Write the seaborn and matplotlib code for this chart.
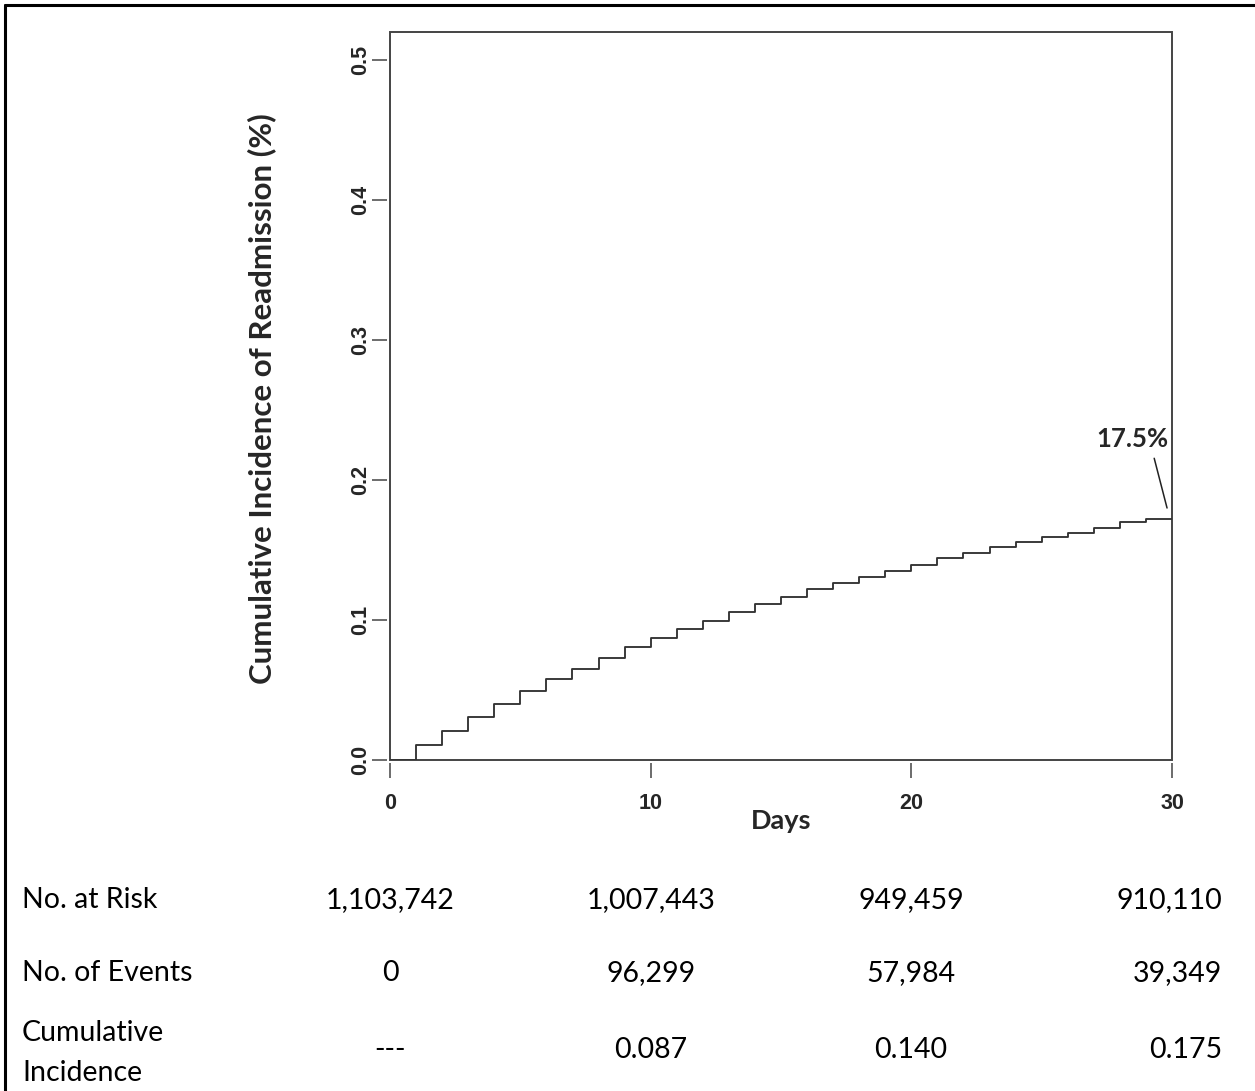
import numpy as np
import pandas as pd
import seaborn as sns
import matplotlib.pyplot as plt
from matplotlib.patches import Rectangle
from matplotlib.lines import Line2D

# step values (cumulative incidence at start of each day)
days = list(range(0, 31))
cum_incidence = [0.0, 0.0109, 0.0207, 0.0307, 0.0402, 0.0490, 0.0576, 0.0652,
                 0.0729, 0.0805, 0.0871, 0.0936, 0.0993, 0.1057, 0.1112, 0.1167,
                 0.1219, 0.1264, 0.1310, 0.1352, 0.1395, 0.1440, 0.1481, 0.1524,
                 0.1560, 0.1593, 0.1624, 0.1657, 0.1700, 0.1721, 0.1721]

x_ticks = [0, 10, 20, 30]
y_ticks = [0.0, 0.1, 0.2, 0.3, 0.4, 0.5]

row_labels = ['No. at Risk', 'No. of Events', 'Cumulative\nIncidence']
at_risk = ['1,103,742', '1,007,443', '949,459', '910,110']
n_events = ['0', '96,299', '57,984', '39,349']
cum_table = ['---', '0.087', '0.140', '0.175']

final_label = '17.5%'

df = pd.DataFrame({'day': days, 'ci': cum_incidence})

sns.set_style('white')
W, H = 1255, 1091
fig = plt.figure(figsize=(W / 100, H / 100), dpi=100)
ax = fig.add_axes([390 / W, 1 - 760 / H, (1172 - 390) / W, (760 - 32) / H])

line_col = '#333333'
sns.lineplot(data=df, x='day', y='ci', drawstyle='steps-post', color=line_col,
             linewidth=1.35, ax=ax)

# R-like detached axes: hide the spines, draw a box instead
# (spine positions first, since moving a spine resets its ticks)
for s in ax.spines.values():
    s.set_visible(False)
ax.spines['left'].set_position(('outward', 2.2))
ax.spines['bottom'].set_position(('outward', 2.2))
ax.add_patch(Rectangle((0, 0), 1, 1, transform=ax.transAxes, fill=False,
                       edgecolor='#444444', linewidth=1.4, clip_on=False))

tick_font = dict(family='Liberation Sans', weight='bold', size=15.5)
ax.set_xlim(0, 30)
ax.set_ylim(0, 0.52)
ax.set_xticks(x_ticks)
ax.set_yticks(y_ticks)
ax.set_xticklabels([str(t) for t in x_ticks], fontdict=tick_font)
ax.set_yticklabels(['%.1f' % t for t in y_ticks], fontdict=tick_font,
                   rotation=90, va='center')

ax.tick_params(axis='both', direction='out', length=10.5, width=1.1,
               color='#444444', left=True, bottom=True)
ax.tick_params(axis='x', pad=11)
ax.tick_params(axis='y', pad=1)

ax.set_xlabel('Days', family='Lato', weight='bold', fontsize=19.5)
ax.xaxis.label.set_va('center')
ax.xaxis.set_label_coords(0.5, (760 - 821) / 728)
ax.set_ylabel('Cumulative Incidence of Readmission (%)', family='Lato',
              weight='bold', fontsize=22.5)
ax.yaxis.label.set_va('center')
ax.yaxis.set_label_coords((262 - 390) / 782, (760 - 399) / 728)

ax.annotate(final_label, xy=(29.81, 0.180), xytext=(28.47, 0.2293),
            ha='center', va='center', family='Lato', weight='bold', fontsize=18.5,
            arrowprops=dict(arrowstyle='-', color='#222222', lw=1.1,
                            relpos=(0.78, 0.0), shrinkA=3, shrinkB=0))

# risk table under the plot
def fx(px):
    return px / W

def fy(py):
    return 1 - py / H

table_font = dict(family='Lato', fontsize=20.5, color='black')
row_y = [900, 973, 1050]
fig.text(fx(22), fy(row_y[0]), row_labels[0], ha='left', va='center', **table_font)
fig.text(fx(22), fy(row_y[1]), row_labels[1], ha='left', va='center', **table_font)
fig.text(fx(22), fy(row_y[2] + 3), row_labels[2], ha='left', va='center',
         linespacing=1.62, **table_font)

col_x = [390, 651, 911]
for vals, yy in zip([at_risk, n_events, cum_table], row_y):
    for i, v in enumerate(vals[:3]):
        fig.text(fx(col_x[i]), fy(yy), v, ha='center', va='center', **table_font)
    fig.text(fx(1222), fy(yy), vals[3], ha='right', va='center', **table_font)

# outer frame (top and left edges only are visible in the crop)
fig.add_artist(Line2D([5 / W, 5 / W], [0, fy(5)], transform=fig.transFigure,
                      color='black', linewidth=2.2))
fig.add_artist(Line2D([5 / W, 1], [fy(5), fy(5)], transform=fig.transFigure,
                      color='black', linewidth=2.2))

fig.savefig('out.png', dpi=100)
